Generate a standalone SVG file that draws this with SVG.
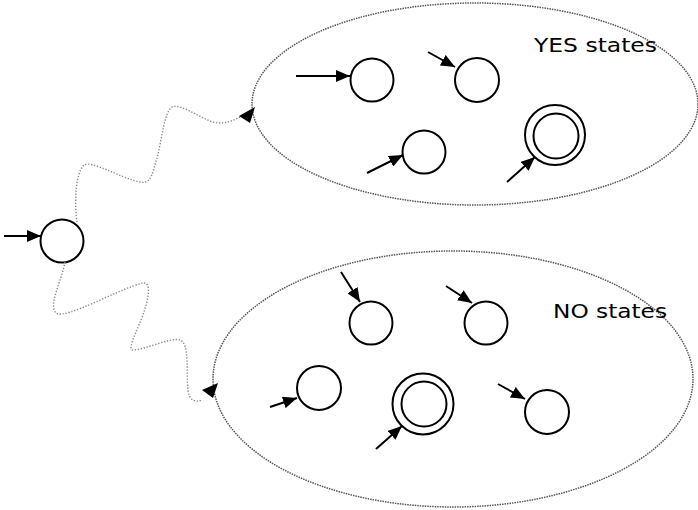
<svg xmlns="http://www.w3.org/2000/svg" width="698" height="510" viewBox="0 0 698 510">
<style>
.set{fill:none;stroke:#555;stroke-width:1.5;stroke-dasharray:1.5 1}
.wave{fill:none;stroke:#888;stroke-width:1.4;stroke-dasharray:1.3 1.7}
.st{fill:#fff;stroke:#000;stroke-width:2}
.ar{stroke:#000;stroke-width:2;fill:none;marker-end:url(#ah)}
.lbl{font-family:"DejaVu Sans",sans-serif;font-size:20px;fill:#000}
</style>
<defs>
<marker id="ah" markerUnits="userSpaceOnUse" markerWidth="15" markerHeight="12" refX="14" refY="6" orient="auto">
<path d="M0,0 L14,6 L0,12 Z" fill="#000"/>
</marker>
</defs>
<rect width="698" height="510" fill="#fff"/>
<g id="yes-set">
<ellipse class="set" cx="475" cy="104" rx="223" ry="101"/>
<text class="lbl" x="534" y="52" textLength="123" lengthAdjust="spacingAndGlyphs">YES states</text>
</g>
<g id="no-set">
<ellipse class="set" cx="453" cy="379" rx="240" ry="128"/>
<text class="lbl" x="553" y="318" textLength="114" lengthAdjust="spacingAndGlyphs">NO states</text>
</g>
<g id="start"><circle class="st" cx="62" cy="241" r="21.5"/></g>
<g id="y1"><circle class="st" cx="372" cy="80" r="21.5"/></g>
<g id="y2"><circle class="st" cx="477" cy="80" r="22"/></g>
<g id="y3"><circle class="st" cx="424" cy="152" r="21.5"/></g>
<g id="y4"><circle class="st" cx="555" cy="135" r="30"/><circle class="st" cx="556" cy="136" r="22.5"/></g>
<g id="n1"><circle class="st" cx="371" cy="323" r="21.5"/></g>
<g id="n2"><circle class="st" cx="486" cy="323" r="21.5"/></g>
<g id="n3"><circle class="st" cx="319" cy="388" r="22"/></g>
<g id="n4"><circle class="st" cx="423" cy="404" r="30.5"/><circle class="st" cx="424" cy="404" r="22.5"/></g>
<g id="n5"><circle class="st" cx="547" cy="412" r="22"/></g>
<g id="connectors">
<path class="wave" d="M77,222 C74,200 76,172 84,165 C92,160 120,178 140,182 C152,185 153,170 157,158 C162,140 164,112 172,107 C180,103 200,118 213,122 C224,125 232,121 242,116"/>
<polygon points="255,107 239,116 250,123" fill="#000"/>
<path class="wave" d="M65,262 C62,280 48,305 56,313 C66,320 120,288 143,283 C152,282 148,300 144,312 C140,325 126,350 133,350 C145,350 170,337 180,340 C190,343 186,375 188,390 C189,400 195,403 202,400"/>
<polygon points="218,383 202,390 213,398" fill="#000"/>
<line class="ar" x1="4" y1="236" x2="41" y2="236"/>
<line class="ar" x1="296" y1="76" x2="350" y2="76"/>
<line class="ar" x1="428" y1="52" x2="455" y2="67"/>
<line class="ar" x1="367" y1="173" x2="403" y2="155"/>
<line class="ar" x1="507" y1="182" x2="535" y2="157"/>
<line class="ar" x1="341" y1="272" x2="360" y2="302"/>
<line class="ar" x1="446" y1="286" x2="472" y2="303"/>
<line class="ar" x1="270" y1="407" x2="297" y2="398"/>
<line class="ar" x1="376" y1="449" x2="402" y2="426"/>
<line class="ar" x1="498" y1="384" x2="525" y2="399"/>
</g>
</svg>
